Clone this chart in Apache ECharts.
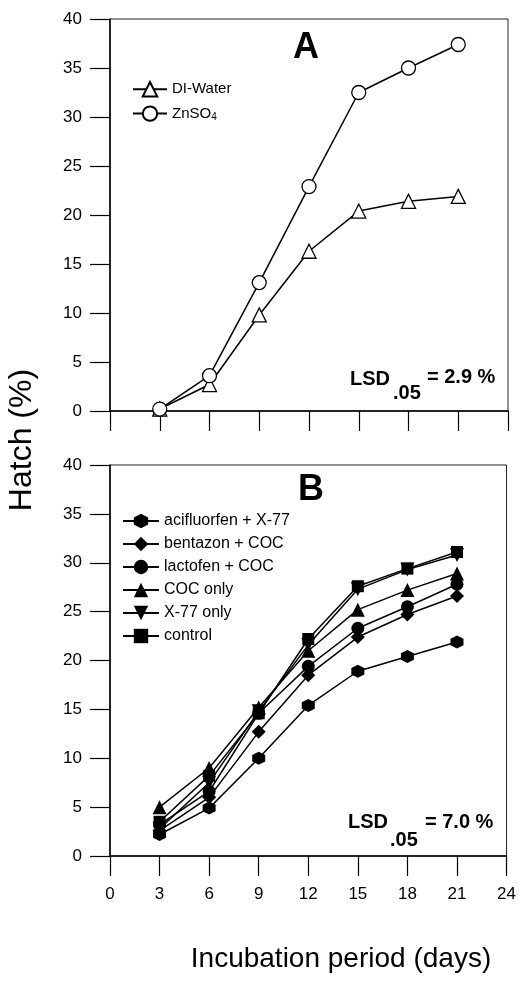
<!DOCTYPE html>
<html><head><meta charset="utf-8">
<script src="https://cdn.jsdelivr.net/npm/echarts@6/dist/echarts.min.js"></script>
<style>html,body{margin:0;padding:0;background:#fff}#c{width:519px;height:988px}</style>
</head><body><div id="c"></div>
<script>
// ---- data ----
const days = [3, 6, 9, 12, 15, 18, 21];
const xTickMin = 0, xTickMax = 24, xTickStep = 3;
const yTickMin = 0, yTickMax = 40, yTickStep = 5;

// Panel A
const diWater = [0.2, 2.7, 9.8, 16.3, 20.4, 21.4, 21.9];
const znSO4   = [0.2, 3.6, 13.1, 22.9, 32.5, 35.0, 37.4];

// Panel B
const acifluorfenX77 = [2.2, 4.9, 10.0, 15.4, 18.9, 20.4, 21.9];
const bentazonCOC    = [2.6, 6.0, 12.7, 18.5, 22.4, 24.7, 26.6];
const lactofenCOC    = [3.2, 6.6, 14.6, 19.4, 23.3, 25.5, 27.8];
const cocOnly        = [5.0, 9.0, 15.2, 21.0, 25.2, 27.2, 28.9];
const x77Only        = [2.8, 7.5, 14.8, 21.6, 27.3, 29.3, 30.8];
const control        = [3.5, 8.2, 14.6, 22.2, 27.6, 29.4, 31.1];

const lsdA = '2.9 %', lsdB = '7.0 %';

// ---- chart ----
const FONT = '"Liberation Sans", Arial, sans-serif';
const pair = arr => days.map((d, i) => [d, arr[i]]);
const HEX = 'path://M5,0 L9.33,2.5 L9.33,7.5 L5,10 L0.67,7.5 L0.67,2.5 Z';
const DOWN = 'path://M0,0 L10,0 L5,9 Z';

function xAxis(gi, showLabel) {
  return {
    type: 'value', gridIndex: gi, min: xTickMin, max: xTickMax, interval: xTickStep,
    axisLine: {show: true, onZero: false, lineStyle: {color: '#000', width: 1.5}},
    axisTick: {show: true, inside: false, length: 20, lineStyle: {color: '#000', width: 1.2}},
    axisLabel: {show: showLabel, margin: 30, color: '#000', fontSize: 17, fontFamily: FONT},
    splitLine: {show: false}
  };
}
function yAxis(gi) {
  return {
    type: 'value', gridIndex: gi, min: yTickMin, max: yTickMax, interval: yTickStep,
    axisLine: {show: true, lineStyle: {color: '#000', width: 1.5}},
    axisTick: {show: true, inside: false, length: 20, lineStyle: {color: '#000', width: 1.2}},
    axisLabel: {margin: 28, color: '#000', fontSize: 17, fontFamily: FONT},
    splitLine: {show: false}
  };
}
function lineSeries(name, arr, gi, symbol, size, hollow) {
  return {
    name, type: 'line', xAxisIndex: gi, yAxisIndex: gi, data: pair(arr),
    symbol, symbolSize: size, showSymbol: true, animation: false,
    lineStyle: {color: '#000', width: 1.5},
    itemStyle: hollow ? {color: '#fff', borderColor: '#000', borderWidth: 1.3}
                      : {color: '#000', borderColor: '#000', borderWidth: 0},
    z: 3
  };
}

const option = {
  backgroundColor: '#fff',
  animation: false,
  textStyle: {fontFamily: FONT},
  grid: [
    {left: 110, top: 19, width: 398, height: 392, show: true, borderColor: '#222', borderWidth: 1, backgroundColor: 'transparent'},
    {left: 110, top: 465, width: 398, height: 391, show: true, borderColor: '#222', borderWidth: 1, backgroundColor: 'transparent'}
  ],
  xAxis: [xAxis(0, false), xAxis(1, true)],
  yAxis: [yAxis(0), yAxis(1)],
  legend: [
    {
      data: ['DI-Water', 'ZnSO4'], orient: 'vertical', left: 127, top: 76,
      itemWidth: 34, itemHeight: 18, itemGap: 8, itemTextGap: 10,
      textStyle: {fontSize: 15, color: '#000', fontFamily: FONT,
        rich: {sub: {fontSize: 10, verticalAlign: 'bottom', padding: [8, 0, 0, 0], color: '#000', fontFamily: FONT}}},
      formatter: n => n === 'ZnSO4' ? 'ZnSO{sub|4}' : n,
      selectedMode: false
    },
    {
      data: ['acifluorfen + X-77', 'bentazon + COC', 'lactofen + COC', 'COC only', 'X-77 only', 'control'],
      orient: 'vertical', left: 117, top: 508,
      itemWidth: 36, itemHeight: 18, itemGap: 7, itemTextGap: 10,
      textStyle: {fontSize: 16, color: '#000', fontFamily: FONT},
      selectedMode: false
    }
  ],
  series: [
    lineSeries('DI-Water', diWater, 0, 'triangle', 14, true),
    lineSeries('ZnSO4', znSO4, 0, 'circle', 14, true),
    lineSeries('acifluorfen + X-77', acifluorfenX77, 1, HEX, 13, false),
    lineSeries('bentazon + COC', bentazonCOC, 1, 'diamond', 14, false),
    lineSeries('lactofen + COC', lactofenCOC, 1, 'circle', 13, false),
    lineSeries('COC only', cocOnly, 1, 'triangle', 14, false),
    lineSeries('X-77 only', x77Only, 1, DOWN, 14, false),
    lineSeries('control', control, 1, 'rect', 12, false)
  ],
  graphic: [
    {type: 'text', left: 293, top: 30, style: {text: 'A', font: 'bold 36px ' + FONT, fill: '#000'}},
    {type: 'text', left: 298, top: 472, style: {text: 'B', font: 'bold 36px ' + FONT, fill: '#000'}},
    {type: 'text', left: 350, top: 369, style: {text: 'LSD', font: 'bold 20px ' + FONT, fill: '#000'}},
    {type: 'text', left: 393, top: 383, style: {text: '.05', font: 'bold 20px ' + FONT, fill: '#000'}},
    {type: 'text', left: 427, top: 367, style: {text: '= ' + lsdA, font: 'bold 20px ' + FONT, fill: '#000'}},
    {type: 'text', left: 348, top: 812, style: {text: 'LSD', font: 'bold 20px ' + FONT, fill: '#000'}},
    {type: 'text', left: 390, top: 830, style: {text: '.05', font: 'bold 20px ' + FONT, fill: '#000'}},
    {type: 'text', left: 425, top: 812, style: {text: '= ' + lsdB, font: 'bold 20px ' + FONT, fill: '#000'}},
    {type: 'text', x: 22, y: 440, rotation: Math.PI / 2,
      style: {text: 'Hatch (%)', font: '32px ' + FONT, fill: '#000', textAlign: 'center', textVerticalAlign: 'middle'}},
    {type: 'text', x: 341, y: 959,
      style: {text: 'Incubation period (days)', font: '28px ' + FONT, fill: '#000', textAlign: 'center', textVerticalAlign: 'middle'}}
  ]
};
const chart = echarts.init(document.getElementById('c'), null, {renderer: 'canvas'});
chart.setOption(option);
</script></body></html>
